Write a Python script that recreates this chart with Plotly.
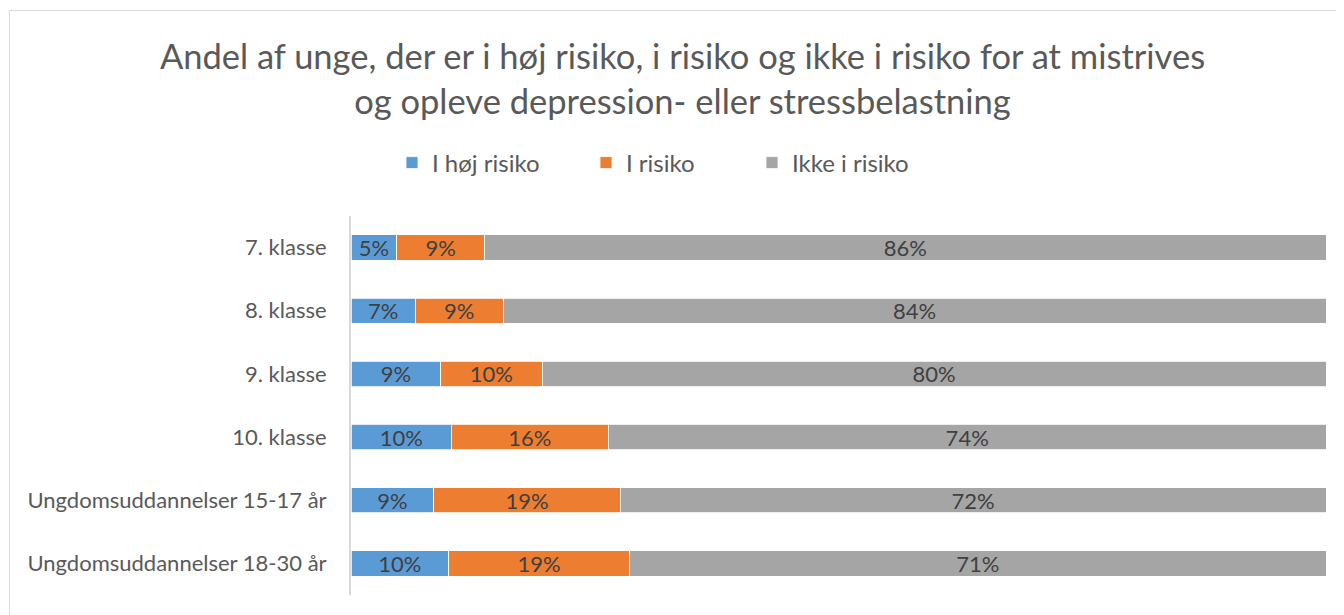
import plotly.graph_objects as go

categories = ["7. klasse", "8. klasse", "9. klasse", "10. klasse",
              "Ungdomsuddannelser 15-17 år", "Ungdomsuddannelser 18-30 år"]
hoej_risiko = [4.7, 6.6, 9.2, 10.3, 8.5, 10.0]
i_risiko = [9.0, 9.0, 10.4, 16.1, 19.1, 18.6]
ikke_risiko = [86.3, 84.4, 80.4, 73.6, 72.4, 71.4]

series_names = ["I høj risiko", "I risiko", "Ikke i risiko"]
colors = ["#5B9BD5", "#ED7D31", "#A5A5A5"]

FONT = "Lato"
GREY_TXT = "#595959"

# the page adds an 8px body margin, so the figure is 8px smaller than the window
W, H = 1336, 607
L, R, T, B = 343, 18, 208, 20
PW = W - L - R

fig = go.Figure()

legend_ids = ["legend", "legend2", "legend3"]
for name, vals, col, lg in zip(series_names, [hoej_risiko, i_risiko, ikke_risiko], colors, legend_ids):
    fig.add_trace(go.Bar(
        y=categories, x=vals, name=name, orientation="h",
        marker=dict(color=col, line=dict(color="white", width=0.8)),
        texttemplate="%{x:.0f}%", textposition="inside", insidetextanchor="middle",
        textangle=0, constraintext="none",
        textfont=dict(family=FONT, size=22, color="#404040"),
        legend=lg, hoverinfo="skip",
    ))

# chart border (light grey frame, partly outside the visible area)
fig.add_shape(type="rect", xref="paper", yref="paper",
              x0=-0.3503, x1=1.03, y0=-0.07, y1=1.5422,
              line=dict(color="#D9D9D9", width=1), fillcolor="rgba(0,0,0,0)", layer="below")

leg_common = dict(orientation="h", yanchor="middle", y=1.1398, xanchor="left",
                  font=dict(family=FONT, size=24, color=GREY_TXT),
                  bgcolor="rgba(0,0,0,0)", itemwidth=30)

fig.update_layout(
    width=W, height=H,
    margin=dict(l=L, r=R, t=T, b=B),
    paper_bgcolor="white", plot_bgcolor="white",
    barmode="stack", bargap=0.6,
    title=dict(text="Andel af unge, der er i høj risiko, i risiko og ikke i risiko for at mistrives<br>og opleve depression- eller stressbelastning",
               x=674.5 / W, xanchor="center", xref="container",
               y=1 - 61 / H, yanchor="top", yref="container",
               font=dict(family=FONT, size=34.5, color=GREY_TXT)),
    legend=dict(x=(384 - L) / PW, **leg_common),
    legend2=dict(x=(578 - L) / PW, **leg_common),
    legend3=dict(x=(744 - L) / PW, **leg_common),
    xaxis=dict(range=[0, 100], visible=False, fixedrange=True),
    yaxis=dict(autorange="reversed", showline=True, linecolor="#D9D9D9", linewidth=2,
               ticks="", showgrid=False, ticklabelstandoff=18,
               tickfont=dict(family=FONT, size=22, color=GREY_TXT)),
    showlegend=True,
)

fig.write_html("out.html")
